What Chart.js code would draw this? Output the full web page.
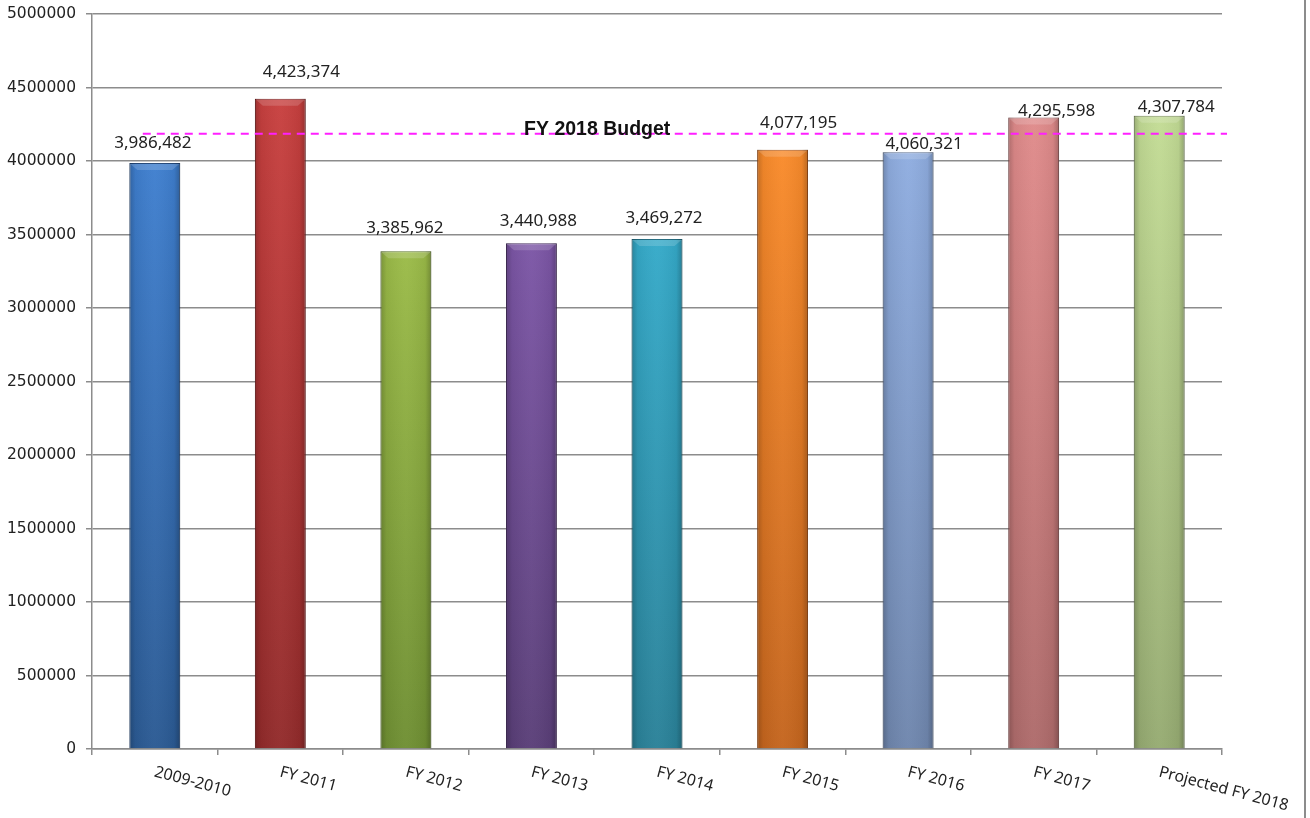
<!DOCTYPE html>
<html lang="en">
<head>
    <meta charset="UTF-8">
    <title>FY Budget chart</title>
    <script src="https://cdn.jsdelivr.net/npm/chart.js"></script>
    <style>
        body { margin: 0; background: #fff; overflow: hidden; }
        .frame { position: relative; width: 1310px; height: 818px; }
        .edge { position: absolute; left: 1304px; top: 0; width: 2px; height: 818px; background: #8c8c8c; }
    </style>
</head>
<body>
    <div class="frame">
        <canvas id="graficoBarras" width="1310" height="818"></canvas>
        <div class="edge"></div>
    </div>
<script>
    // dados
    const categorias = ['2009-2010', 'FY 2011', 'FY 2012', 'FY 2013', 'FY 2014', 'FY 2015', 'FY 2016', 'FY 2017', 'Projected FY 2018'];
    const valores = [3986482, 4423374, 3385962, 3440988, 3469272, 4077195, 4060321, 4295598, 4307784];
    const orcamento = 4185000;
    const textoOrcamento = 'FY 2018 Budget';
    const ticksY = [0, 500000, 1000000, 1500000, 2000000, 2500000, 3000000, 3500000, 4000000, 4500000, 5000000];

    // cores das barras (topo, base)
    const coresTopo = ['#3f7fcf', '#c8403f', '#9bbb48', '#7c56a6', '#35aac9', '#f98b2b', '#8fade0', '#e08b8b', '#c3dc95'];
    const coresBase = ['#2b5a93', '#922b2b', '#6f8f33', '#5a3f78', '#2a8198', '#c4651e', '#6f86ad', '#ae6b6b', '#96ab72'];
    const coresBorda = ['#25497a', '#7a2222', '#5b7529', '#4a3263', '#226b7f', '#a4531a', '#5b6f90', '#8f5757', '#7c8e5e'];

    // deslocamento dos rotulos de valor (px) - como foram arrastados no original
    const rotuloDx = [-2, 21, -1, 7, 7, 16, 16, 23, 17];
    const rotuloFolga = [15, 22, 18, 17, 16, 22, 3, 2, 4];

    function formatar(n) {
        return n.toLocaleString('en-US');
    }

    function gradienteBarra(context) {
        const chart = context.chart;
        const area = chart.chartArea;
        if (!area) return coresTopo[context.dataIndex];
        const y = chart.scales.y;
        const topo = y.getPixelForValue(valores[context.dataIndex]);
        const base = y.getPixelForValue(0);
        const g = chart.ctx.createLinearGradient(0, topo, 0, base);
        g.addColorStop(0, coresTopo[context.dataIndex]);
        g.addColorStop(1, coresBase[context.dataIndex]);
        return g;
    }

    // sombreamento lateral + chanfro no topo das barras
    const pluginBrilho = {
        id: 'brilho',
        afterDatasetsDraw(chart) {
            const ctx = chart.ctx;
            const meta = chart.getDatasetMeta(0);
            meta.data.forEach(function (bar, i) {
                const w = bar.width;
                const x0 = bar.x - w / 2;
                const x1 = bar.x + w / 2;
                const top = bar.y;
                const bottom = bar.base;
                ctx.save();
                const h = ctx.createLinearGradient(x0, 0, x1, 0);
                h.addColorStop(0, 'rgba(0,0,0,0.22)');
                h.addColorStop(0.12, 'rgba(0,0,0,0.05)');
                h.addColorStop(0.5, 'rgba(255,255,255,0.03)');
                h.addColorStop(0.88, 'rgba(0,0,0,0.05)');
                h.addColorStop(1, 'rgba(0,0,0,0.25)');
                ctx.fillStyle = h;
                ctx.fillRect(x0, top, w, bottom - top);
                // chanfro
                ctx.beginPath();
                ctx.moveTo(x0 + 1, top + 1);
                ctx.lineTo(x1 - 1, top + 1);
                ctx.lineTo(x1 - 8, top + 7);
                ctx.lineTo(x0 + 8, top + 7);
                ctx.closePath();
                ctx.fillStyle = 'rgba(255,255,255,0.16)';
                ctx.fill();
                ctx.restore();
            });
        }
    };

    // rotulos de valor, linha do orcamento e rotulos do eixo x
    const pluginTextos = {
        id: 'textos',
        afterDraw(chart) {
            const ctx = chart.ctx;
            const x = chart.scales.x;
            const y = chart.scales.y;
            const meta = chart.getDatasetMeta(0);

            ctx.save();
            ctx.fillStyle = '#222';
            ctx.font = '17px "Noto Sans"';
            ctx.textAlign = 'center';
            ctx.textBaseline = 'alphabetic';
            meta.data.forEach(function (bar, i) {
                ctx.fillText(formatar(valores[i]), bar.x + rotuloDx[i], bar.y - rotuloFolga[i]);
            });

            // linha tracejada do orcamento
            const yb = y.getPixelForValue(orcamento);
            ctx.strokeStyle = '#ff1fff';
            ctx.lineWidth = 2;
            ctx.setLineDash([8, 6]);
            ctx.beginPath();
            ctx.moveTo(x.getPixelForValue(0) - 12, yb);
            ctx.lineTo(chart.chartArea.right + 5, yb);
            ctx.stroke();
            ctx.setLineDash([]);

            ctx.fillStyle = '#111';
            ctx.font = 'bold 19.5px "Liberation Sans"';
            const xm = (x.getPixelForValue(3) + x.getPixelForValue(4)) / 2;
            ctx.fillText(textoOrcamento, xm + 3, yb + 1);

            // rotulos do eixo x inclinados
            ctx.font = '16px "Noto Sans"';
            ctx.fillStyle = '#222';
            ctx.textAlign = 'left';
            ctx.textBaseline = 'top';
            categorias.forEach(function (c, i) {
                ctx.save();
                ctx.translate(x.getPixelForValue(i) + 2, chart.chartArea.bottom + 15);
                ctx.rotate(15 * Math.PI / 180);
                ctx.fillText(c, 0, 0);
                ctx.restore();
            });
            ctx.restore();
        }
    };

    const dados = {
        labels: categorias,
        datasets: [{
            data: valores,
            backgroundColor: gradienteBarra,
            borderColor: coresBorda,
            borderWidth: 1,
            barPercentage: 0.405,
            categoryPercentage: 1
        }]
    };

    const config = {
        type: 'bar',
        data: dados,
        options: {
            responsive: false,
            animation: false,
            layout: { autoPadding: false, padding: { top: 14, right: 88, left: 0, bottom: 0 } },
            plugins: {
                legend: { display: false },
                tooltip: { enabled: false }
            },
            scales: {
                x: {
                    grid: {
                        offset: true,
                        drawOnChartArea: false,
                        drawTicks: true,
                        tickLength: 6,
                        color: '#8c8c8c',
                        lineWidth: 1.5
                    },
                    border: { color: '#8c8c8c', width: 1.5 },
                    ticks: { display: false },
                    afterFit(scale) { scale.height = 69; }
                },
                y: {
                    min: 0,
                    max: 5000000,
                    afterBuildTicks(scale) {
                        scale.ticks = ticksY.map(function (v) { return { value: v }; });
                    },
                    grid: {
                        color: '#8c8c8c',
                        lineWidth: 1.5,
                        tickLength: 6
                    },
                    border: { color: '#8c8c8c', width: 1.5 },
                    ticks: {
                        color: '#222',
                        padding: 10,
                        font: { family: '"DejaVu Sans"', size: 15.5 },
                        callback: function (v) { return String(v); }
                    },
                    afterFit(scale) { scale.width = 92; scale.paddingTop = 0; scale.paddingBottom = 0; }
                }
            }
        },
        plugins: [pluginBrilho, pluginTextos]
    };

    let grafico = new Chart(document.getElementById('graficoBarras'), config);
</script>
</body>
</html>
